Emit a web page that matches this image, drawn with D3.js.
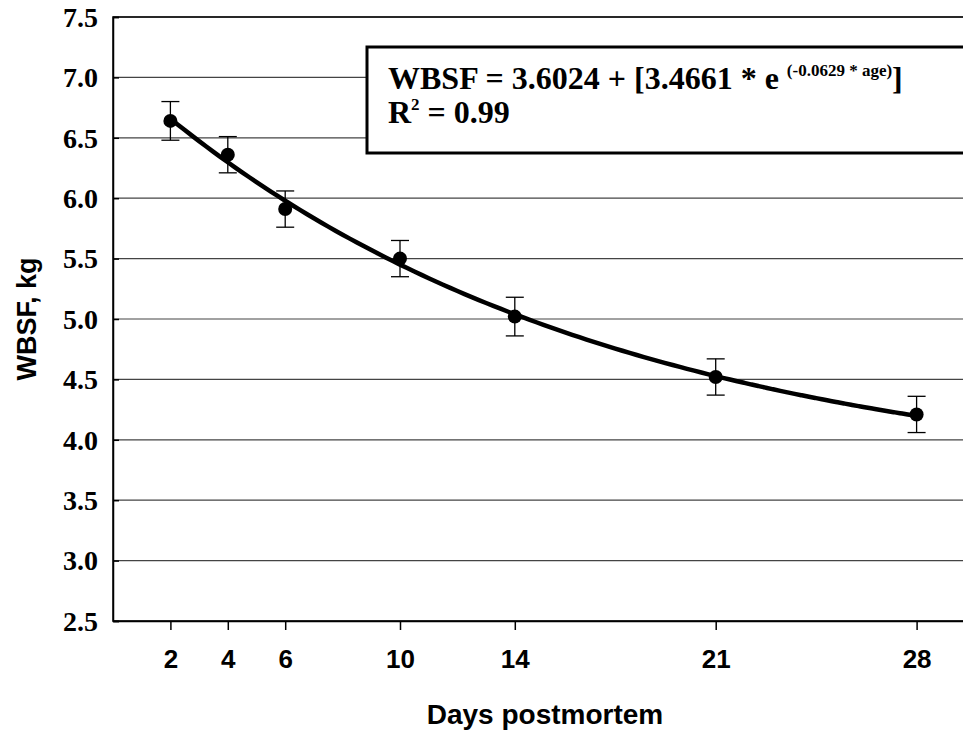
<!DOCTYPE html>
<html>
<head>
<meta charset="utf-8">
<script src="https://cdn.jsdelivr.net/npm/d3@7"></script>
<style>
  body { margin: 0; background: #fff; }
  svg { display: block; }
</style>
</head>
<body>
<div id="chart"></div>
<script>
// Tenderness data
const days = [2, 4, 6, 10, 14, 21, 28];
const wbsf = [6.64, 6.36, 5.91, 5.50, 5.02, 4.52, 4.21];
const sem = [0.16, 0.15, 0.15, 0.15, 0.16, 0.15, 0.15];
const yTicks = [2.5, 3.0, 3.5, 4.0, 4.5, 5.0, 5.5, 6.0, 6.5, 7.0, 7.5];
// printed regression: WBSF = a + b * exp(c * age)
const fitCoef = [3.6024, 3.4661, -0.0629];

const width = 963, height = 731;
const margins = { top: 17, right: -11, bottom: 110, left: 113 };

const x = d3.scaleLinear()
    .domain([0, 30])
    .range([margins.left, width - margins.right]);
const y = d3.scaleLinear()
    .domain([2.5, 7.5])
    .range([height - margins.bottom, margins.top]);

const svg = d3.select("#chart").append("svg")
    .attr("width", width)
    .attr("height", height)
    .attr("viewBox", [0, 0, width, height]);

// gridlines
svg.append("g")
    .selectAll("line")
    .data(yTicks)
    .join("line")
    .attr("x1", x(0)).attr("x2", x(30))
    .attr("y1", d => y(d)).attr("y2", d => y(d))
    .attr("stroke", "#444")
    .attr("stroke-width", 1.2);

// Y-axis
svg.append("g")
   .attr("transform", `translate(${margins.left},0)`)
   .call(d3.axisRight(y).tickValues(yTicks).tickSize(6).tickFormat(""))
   .call(g => g.selectAll("line, path").attr("stroke", "#000").attr("stroke-width", 1.5));

svg.append("g")
   .selectAll("text")
   .data(yTicks)
   .join("text")
   .attr("x", 98)
   .attr("y", d => y(d))
   .attr("dy", "0.35em")
   .attr("text-anchor", "end")
   .style("font-family", "'Liberation Serif', 'Times New Roman', serif")
   .style("font-weight", "bold")
   .style("font-size", "28px")
   .text(d => d.toFixed(1));

// X-axis
svg.append("g")
   .attr("transform", `translate(0,${height - margins.bottom})`)
   .call(d3.axisBottom(x).tickValues(days).tickSize(9).tickPadding(20).tickSizeOuter(0))
   .call(g => g.selectAll("line, path").attr("stroke", "#000").attr("stroke-width", 1.5))
   .selectAll("text")
   .attr("fill", "#000")
   .style("font-family", "'Liberation Sans', Arial, sans-serif")
   .style("font-weight", "bold")
   .style("font-size", "26px");

// axis titles
svg.append("text")
   .attr("x", 545).attr("y", 724)
   .attr("text-anchor", "middle")
   .style("font-family", "'Liberation Sans', Arial, sans-serif")
   .style("font-weight", "bold")
   .style("font-size", "28px")
   .text("Days postmortem");

svg.append("text")
   .attr("transform", "translate(36,319) rotate(-90)")
   .attr("text-anchor", "middle")
   .style("font-family", "'Liberation Sans', Arial, sans-serif")
   .style("font-weight", "bold")
   .style("font-size", "27px")
   .text("WBSF, kg");

// fitted curve
const curveDays = d3.range(2, 28.01, 0.25);
const line = d3.line()
    .x(d => x(d))
    .y(d => y(fitCoef[0] + fitCoef[1] * Math.exp(fitCoef[2] * d)))
    .curve(d3.curveMonotoneX);
svg.append("path")
   .datum(curveDays)
   .attr("fill", "none")
   .attr("stroke", "#000")
   .attr("stroke-width", 4.5)
   .attr("d", line);

const pts = days.map((d, i) => ({ day: d, mean: wbsf[i], err: sem[i] }));

// error bars
const eb = svg.append("g").attr("stroke", "#000").attr("stroke-width", 1.3);
eb.selectAll(".stem").data(pts).join("line")
   .attr("x1", d => x(d.day)).attr("x2", d => x(d.day))
   .attr("y1", d => y(d.mean + d.err)).attr("y2", d => y(d.mean - d.err));
eb.selectAll(".capTop").data(pts).join("line")
   .attr("x1", d => x(d.day) - 9).attr("x2", d => x(d.day) + 9)
   .attr("y1", d => y(d.mean + d.err)).attr("y2", d => y(d.mean + d.err));
eb.selectAll(".capBot").data(pts).join("line")
   .attr("x1", d => x(d.day) - 9).attr("x2", d => x(d.day) + 9)
   .attr("y1", d => y(d.mean - d.err)).attr("y2", d => y(d.mean - d.err));

// means
svg.append("g")
   .selectAll("circle")
   .data(pts)
   .join("circle")
   .attr("cx", d => x(d.day))
   .attr("cy", d => y(d.mean))
   .attr("r", 7)
   .attr("fill", "#000");

// plot frame
svg.append("rect")
   .attr("x", x(0)).attr("y", y(7.5))
   .attr("width", x(30) - x(0)).attr("height", y(2.5) - y(7.5))
   .attr("fill", "none").attr("stroke", "#000").attr("stroke-width", 1.5);

// equation box
const box = svg.append("g");
box.append("rect")
   .attr("x", 367).attr("y", 47)
   .attr("width", 620).attr("height", 106)
   .attr("fill", "#fff").attr("stroke", "#000").attr("stroke-width", 3);

const eq = box.append("text")
   .attr("x", 388).attr("y", 89)
   .style("font-family", "'Liberation Serif', 'Times New Roman', serif")
   .style("font-weight", "bold")
   .style("font-size", "32px");
eq.append("tspan").text("WBSF = 3.6024 + [3.4661 * e ");
eq.append("tspan").attr("dy", -13).style("font-size", "17px").text("(-0.0629 * age)");
eq.append("tspan").attr("dy", 13).text("]");

const r2 = box.append("text")
   .attr("x", 388).attr("y", 123)
   .style("font-family", "'Liberation Serif', 'Times New Roman', serif")
   .style("font-weight", "bold")
   .style("font-size", "32px");
r2.append("tspan").text("R");
r2.append("tspan").attr("dy", -13).style("font-size", "17px").text("2");
r2.append("tspan").attr("dy", 13).text(" = 0.99");
</script>
</body>
</html>
